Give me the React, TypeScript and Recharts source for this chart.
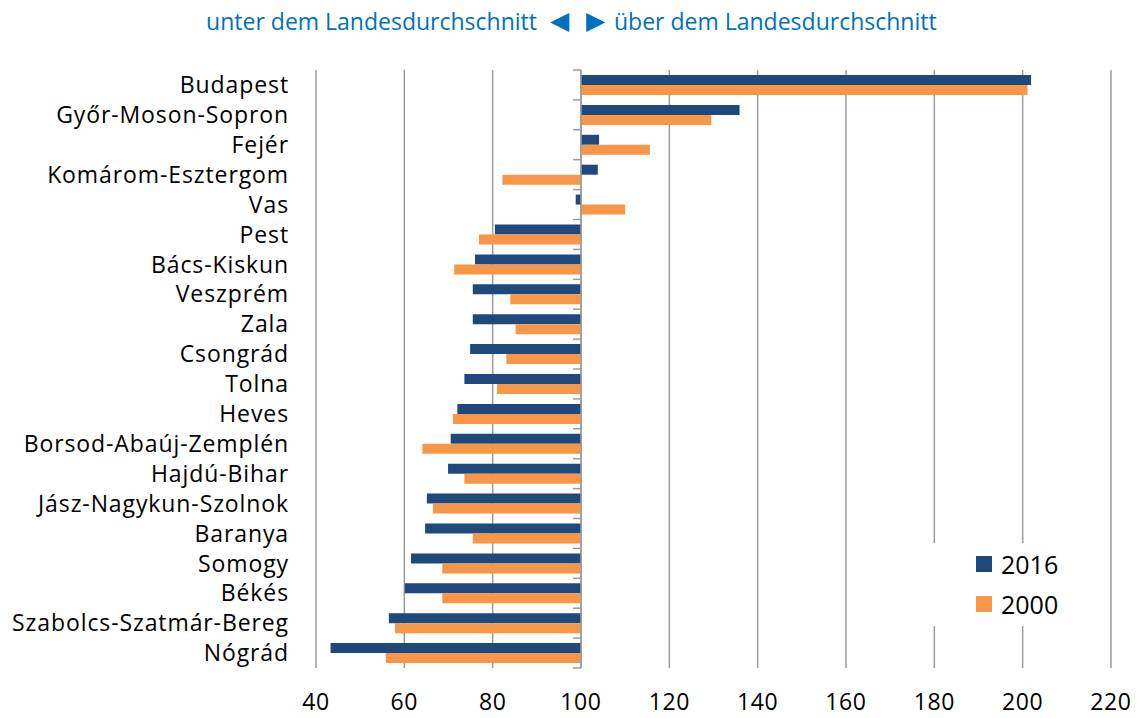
import React from "react"
import { BarChart, Bar, XAxis, YAxis, CartesianGrid, ReferenceLine } from "recharts"

// Komitate, sorted as in the chart (top to bottom)
const counties = [
  "Budapest",
  "Győr-Moson-Sopron",
  "Fejér",
  "Komárom-Esztergom",
  "Vas",
  "Pest",
  "Bács-Kiskun",
  "Veszprém",
  "Zala",
  "Csongrád",
  "Tolna",
  "Heves",
  "Borsod-Abaúj-Zemplén",
  "Hajdú-Bihar",
  "Jász-Nagykun-Szolnok",
  "Baranya",
  "Somogy",
  "Békés",
  "Szabolcs-Szatmár-Bereg",
  "Nógrád",
]

// index, Landesdurchschnitt = 100
const values2016 = [201.9, 135.9, 104.1, 103.8, 98.8, 80.5, 76.0, 75.5, 75.5, 74.9, 73.6, 72.0, 70.5, 69.9, 65.1, 64.7, 61.5, 60.1, 56.5, 43.3]
const values2000 = [201.1, 129.5, 115.6, 82.2, 110.0, 76.9, 71.3, 84.0, 85.2, 83.1, 81.0, 71.0, 64.1, 73.6, 66.5, 75.5, 68.6, 68.6, 57.9, 55.8]

const xTicks = [40, 60, 80, 100, 120, 140, 160, 180, 200, 220]
const BASE = 100

const range = (v: number) => [Math.min(BASE, v), Math.max(BASE, v)]

const data = counties.map((name, i) => ({
  name,
  r2016: range(values2016[i]),
  r2000: range(values2000[i]),
}))

const BLUE = "#1F497D"
const ORANGE = "#F79646"
const GRID = "#9b9b9b"
const FONT = "'Open Sans', Lato, sans-serif"

const legendItems = [
  { label: "2016", color: BLUE },
  { label: "2000", color: ORANGE },
]

export default function App() {
  return (
    <div style={{ position: "absolute", left: 0, top: 0, width: 1140, height: 718, background: "#fff", fontFamily: FONT }}>
      <div style={{ position: "absolute", top: 5, left: 0, width: 1140, height: 30, color: "#0070C0", fontSize: 23 }}>
        <span style={{ position: "absolute", right: 1140 - 537, whiteSpace: "nowrap" }}>unter dem Landesdurchschnitt</span>
        <span style={{ position: "absolute", left: 550, top: -3, fontSize: 25 }}>◀</span>
        <span style={{ position: "absolute", left: 586, top: -3, fontSize: 25 }}>▶</span>
        <span style={{ position: "absolute", left: 614, whiteSpace: "nowrap" }}>über dem Landesdurchschnitt</span>
      </div>
      <BarChart
        width={1140}
        height={718}
        data={data}
        layout="vertical"
        margin={{ top: 70, right: 29, bottom: 0, left: 0 }}
        barCategoryGap="16.7%"
        barGap={0}
      >
        <CartesianGrid vertical horizontal={false} stroke={GRID} strokeWidth={1.5} />
        <XAxis
          type="number"
          domain={[40, 220]}
          ticks={xTicks}
          axisLine={false}
          tickLine={false}
          tickSize={0}
          tickMargin={26}
          height={50}
          tick={{ fontSize: 23, fill: "#000", fontFamily: FONT, letterSpacing: 0.6 }}
        />
        <YAxis
          type="category"
          dataKey="name"
          width={316}
          axisLine={false}
          tickLine={false}
          tickSize={0}
          tickMargin={27}
          interval={0}
          tick={{ fontSize: 23, fill: "#000", fontFamily: FONT, letterSpacing: 0.9 }}
        />
        <ReferenceLine x={BASE} stroke={GRID} strokeWidth={1.5} />
        {counties.map((c) => (
          <ReferenceLine
            key={c}
            segment={[{ x: 98.2, y: c }, { x: BASE, y: c }]}
            position="start"
            stroke={GRID}
            strokeWidth={1.5}
          />
        ))}
        <ReferenceLine
          segment={[{ x: 98.2, y: counties[counties.length - 1] }, { x: BASE, y: counties[counties.length - 1] }]}
          position="end"
          stroke={GRID}
          strokeWidth={1.5}
        />
        <Bar dataKey="r2016" name="2016" fill={BLUE} isAnimationActive={false} />
        <Bar dataKey="r2000" name="2000" fill={ORANGE} isAnimationActive={false} />
      </BarChart>
      <div style={{ position: "absolute", left: 930, top: 543, width: 165, height: 82, background: "#fff", paddingTop: 1 }}>
        {legendItems.map((it) => (
          <div key={it.label} style={{ display: "flex", alignItems: "center", height: 40 }}>
            <span style={{ width: 16, height: 16, background: it.color, display: "inline-block", marginLeft: 46, marginRight: 9 }} />
            <span style={{ fontSize: 25, color: "#000", lineHeight: "40px" }}>{it.label}</span>
          </div>
        ))}
      </div>
    </div>
  )
}
